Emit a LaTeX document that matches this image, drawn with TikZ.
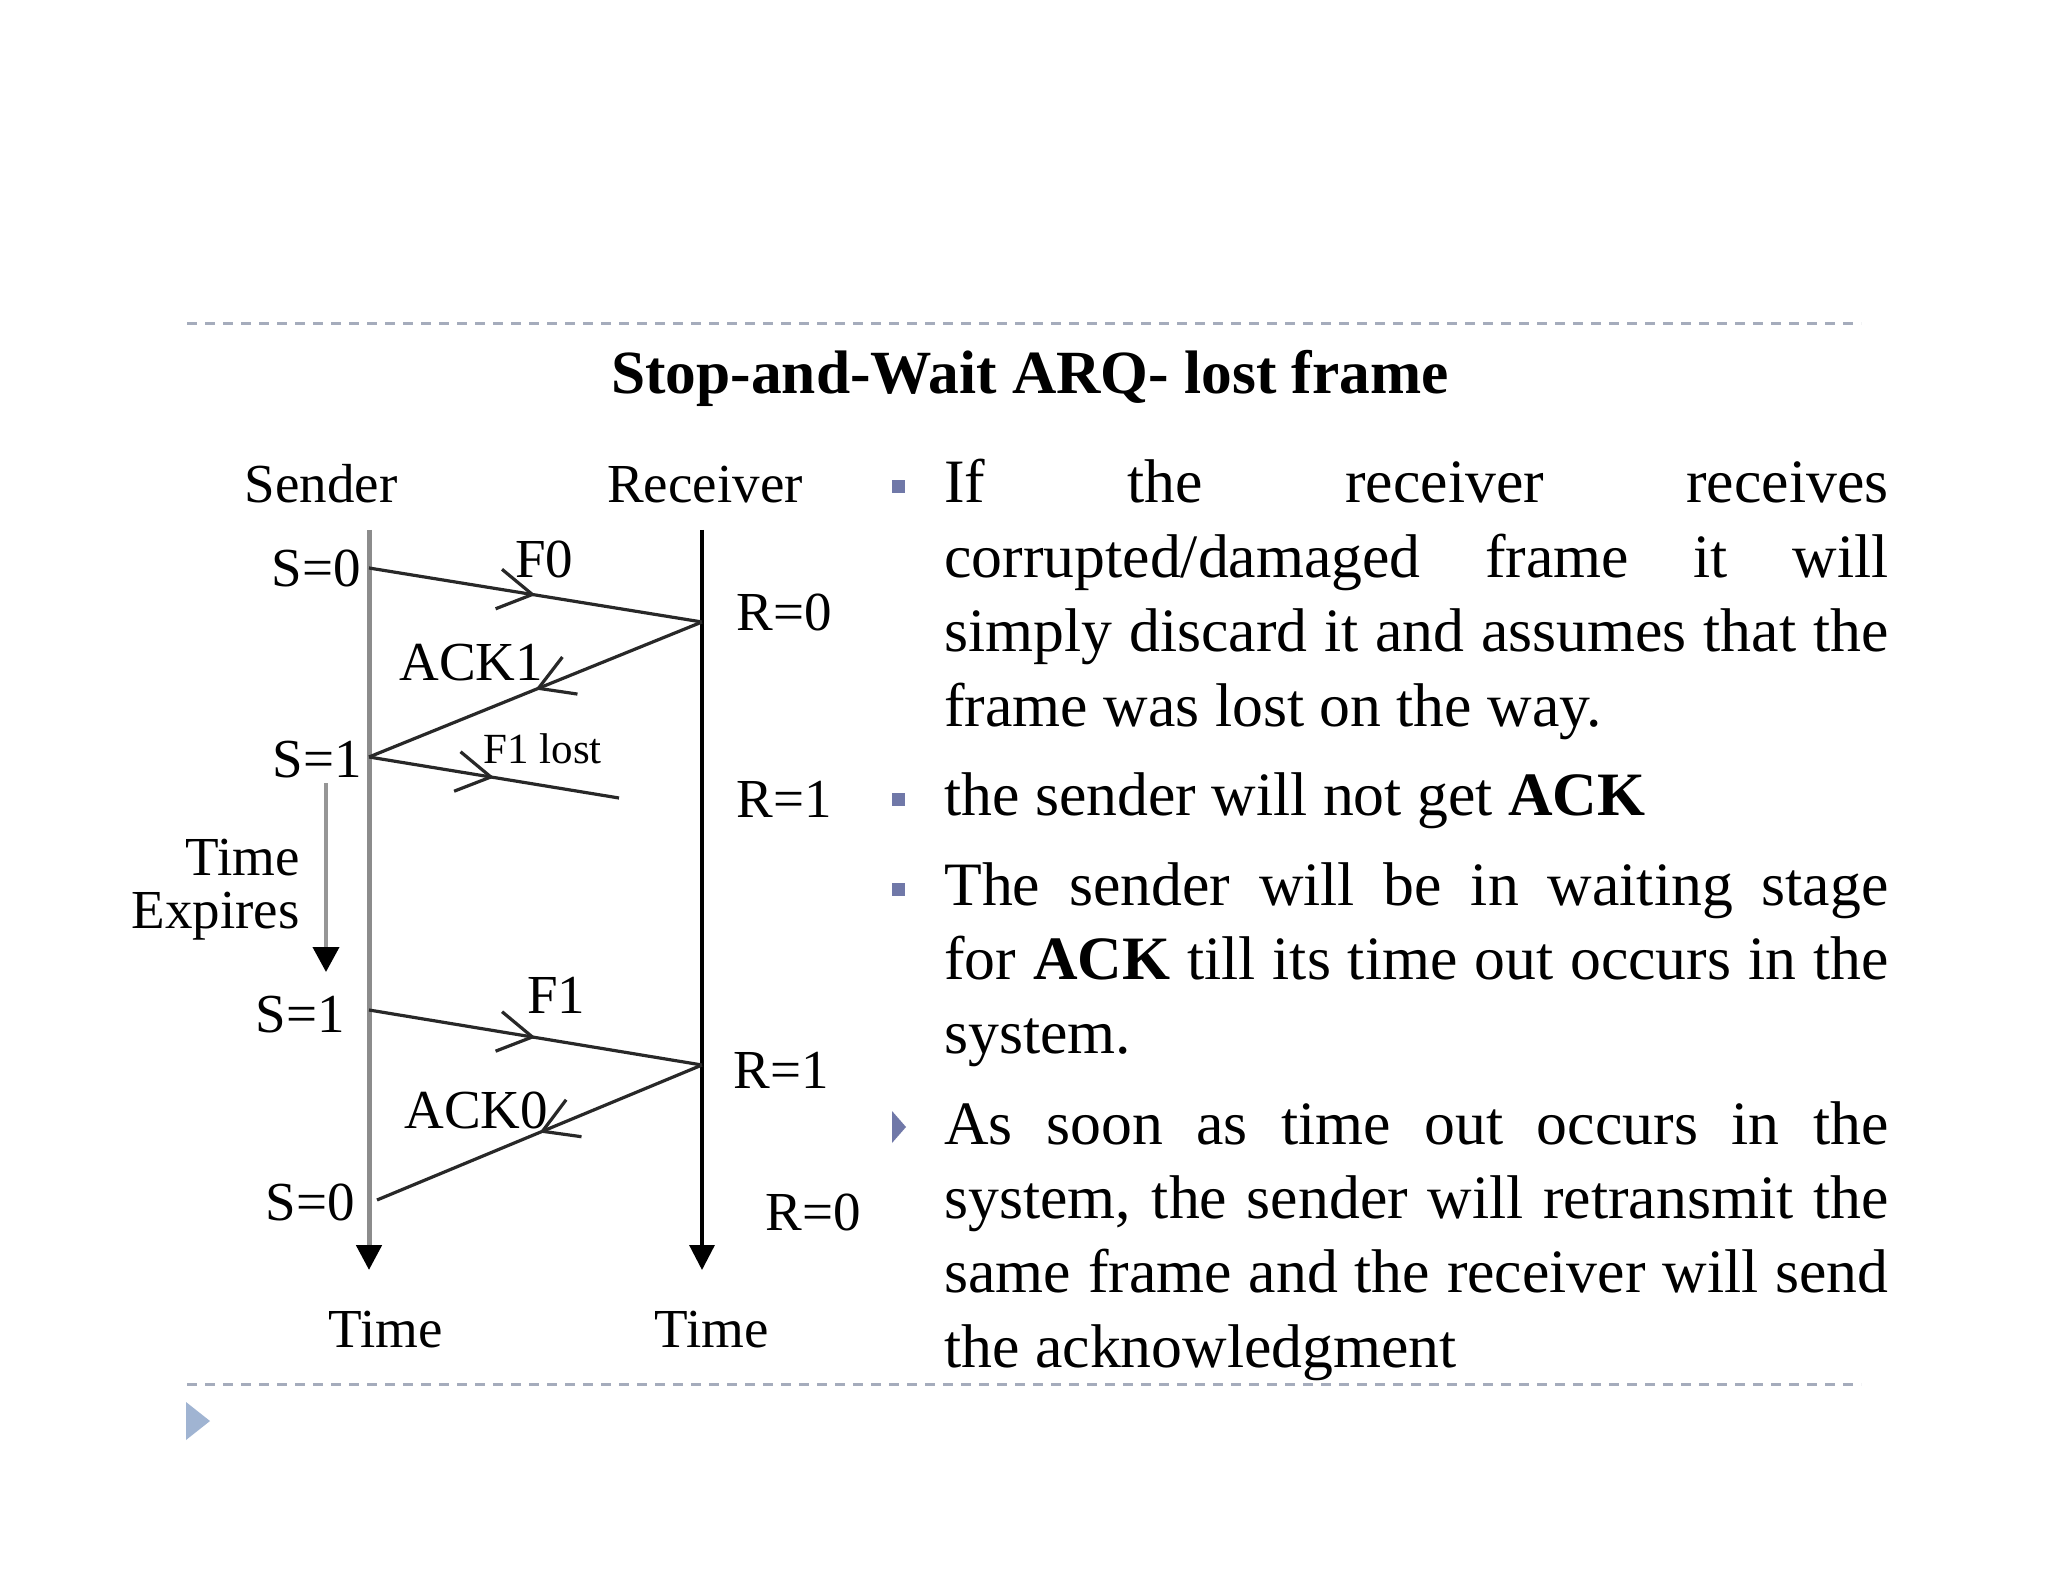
\documentclass[tikz,border=0pt]{standalone}
\usepackage{fontspec}
\setmainfont{Liberation Serif}
\usetikzlibrary{arrows.meta,decorations.markings}
\definecolor{bulletblue}{RGB}{112,120,168}
\definecolor{cornerblue}{RGB}{160,180,210}
\definecolor{dashgray}{RGB}{165,172,188}
\definecolor{senderline}{RGB}{140,140,140}
\definecolor{expline}{RGB}{150,150,150}
\definecolor{msgline}{RGB}{40,40,40}
\setlength{\parindent}{0pt}
\newcommand{\jline}[1]{\makebox[472pt][s]{\spaceskip=0pt\xspaceskip=0pt #1}}
\begin{document}
\begin{tikzpicture}[x=0.5pt,y=-0.5pt,
  lbl/.style={inner sep=0pt, font=\fontsize{27.5pt}{33pt}\selectfont},
  smalllbl/.style={inner sep=0pt, font=\fontsize{21.5pt}{26pt}\selectfont},
  timeline/.style={line width=2.5pt, -{Triangle[length=12.5pt,width=12.5pt,color=black]}},
  msg/.style={msgline, line width=1.6pt, postaction={decorate},
    decoration={markings, mark=at position 0.5 with {\arrow{Straight Barb[length=17pt,width=20pt]}}}},
  body/.style={inner sep=0pt, anchor=base west, text width=472pt, align=left,
    font=\fontsize{30.85pt}{37.2pt}\selectfont},
  sepline/.style={dashgray, line width=1.5pt, dash pattern=on 5pt off 4pt},
  sqbullet/.style={fill=bulletblue, draw=none, minimum size=6.5pt, inner sep=0pt}
]
\fill[white] (0,0) rectangle (2048,1582);
\useasboundingbox (0,0) rectangle (2048,1582);

% separators and corner mark
\draw[sepline] (187,324) -- (1861,324);
\draw[sepline] (187,1384) -- (1861,1384);
\fill[cornerblue] (186,1402) -- (210,1421) -- (186,1440) -- cycle;

% title
\node[inner sep=0pt, anchor=base, font=\fontsize{30.7pt}{37pt}\selectfont\bfseries] (title) at (1030,394) {Stop-and-Wait ARQ- lost frame};

% timelines
\coordinate (sTop) at (369,530);
\coordinate (sBot) at (369,1270);
\coordinate (rTop) at (702,530);
\coordinate (rBot) at (702,1270);
\draw[timeline, senderline] (sTop) -- (sBot);
\draw[timeline, black, line width=1.6pt] (rTop) -- (rBot);

% events
\coordinate (s0) at (369,568);
\coordinate (r0) at (702,622);
\coordinate (s1) at (369,757);
\coordinate (lost) at (619,798);
\coordinate (s1b) at (369,1010);
\coordinate (r1) at (702,1065);
\coordinate (s0b) at (377,1200);

\draw[msg] (s0) -- (r0);
\draw[msg] (r0) -- (s1);
\draw[msg] (s1) -- (lost);
\draw[msg] (s1b) -- (r1);
\draw[msg] (r1) -- (s0b);

% time expires arrow
\coordinate (te1) at (326,783);
\coordinate (te2) at (326,972);
\draw[expline, line width=2pt, -{Triangle[length=12.5pt,width=13pt,color=black]}] (te1) -- (te2);

% labels
\node[lbl, anchor=base] (sender) at (321,503) {Sender};
\node[lbl, anchor=base] (receiver) at (705,503) {Receiver};
\node[lbl, anchor=base east] (ls0) at (361,587) {S=0};
\node[lbl, anchor=base west] (lf0) at (515,578) {F0};
\node[lbl, anchor=base west] (lr0) at (736,630) {R=0};
\node[lbl, anchor=base west] (lack1) at (399,680) {ACK1};
\node[lbl, anchor=base east] (ls1) at (362,777) {S=1};
\node[smalllbl, anchor=base west] (llost) at (483,763) {F1 lost};
\node[lbl, anchor=base west] (lr1) at (736,817) {R=1};
\node[lbl, anchor=base east] (ltime) at (300,875) {Time};
\node[lbl, anchor=base east] (lexp) at (300,928) {Expires};
\node[lbl, anchor=base east] (ls1b) at (345,1032) {S=1};
\node[lbl, anchor=base west] (lf1) at (527,1013) {F1};
\node[lbl, anchor=base west] (lr1b) at (733,1088) {R=1};
\node[lbl, anchor=base west] (lack0) at (404,1128) {ACK0};
\node[lbl, anchor=base east] (ls0b) at (355,1220) {S=0};
\node[lbl, anchor=base west] (lr0b) at (765,1230) {R=0};
\node[lbl, anchor=base] (t1) at (386,1347) {Time};
\node[lbl, anchor=base] (t2) at (712,1347) {Time};

% bullets
\node[sqbullet] (b1) at (898,487) {};
\node[sqbullet] (b2) at (898,799) {};
\node[sqbullet] (b3) at (898,889) {};
\fill[bulletblue] (892,1111) -- (906,1127) -- (892,1143) -- cycle;

\node[body] (p1) at (944,503) {\spaceskip=0pt\xspaceskip=0pt
\jline{If the receiver receives}\\
\jline{corrupted/damaged frame it will}\\
\jline{simply discard it and assumes that the}\\
frame was lost on the way.};
\node[body] (p2) at (944,815) {\spaceskip=0pt\xspaceskip=0pt the sender will not get \textbf{ACK}};
\node[body] (p3) at (944,905) {\spaceskip=0pt\xspaceskip=0pt
\jline{The sender will be in waiting stage}\\
\jline{for \textbf{ACK} till its time out occurs in the}\\
system.};
\node[body] (p4) at (944,1144) {\spaceskip=0pt\xspaceskip=0pt
\jline{As soon as time out occurs in the}\\
\jline{system, the sender will retransmit the}\\
\jline{same frame and the receiver will send}\\
the acknowledgment};
\end{tikzpicture}
\end{document}
